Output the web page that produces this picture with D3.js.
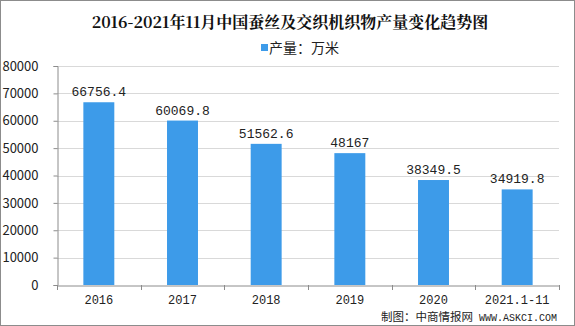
<!DOCTYPE html>
<html><head><meta charset="utf-8">
<script src="https://cdn.jsdelivr.net/npm/d3@7"></script>
<style>body{margin:0;background:#fff}svg{display:block}</style>
</head><body>
<svg id="c" width="575" height="326"></svg>
<script>
const categories = ["2016","2017","2018","2019","2020","2021.1-11"];
const values = [66756.4, 60069.8, 51562.6, 48167, 38349.5, 34919.8];
const valueLabels = ["66756.4","60069.8","51562.6","48167","38349.5","34919.8"];
const yTicks = [0,10000,20000,30000,40000,50000,60000,70000,80000];
const title = "2016-2021年11月中国蚕丝及交织机织物产量变化趋势图";
const legendLabel = "产量：万米";
const sourceCn = "制图：中商情报网";
const sourceEn = " WWW.ASKCI.COM";

const svg = d3.select("#c");
const W = 575, H = 326;
const font = "'SimSun','Noto Sans CJK SC',sans-serif";
const mono = "'Liberation Mono','DejaVu Sans Mono',monospace";
svg.append("rect").attr("x",0.5).attr("y",0.5).attr("width",W-1).attr("height",H-1)
  .attr("fill","#fff").attr("stroke","#8c8c8c");

const X0 = 57, X1 = 559;
const x = d3.scaleBand().domain(categories).range([X0,X1]).paddingInner(0.63).paddingOuter(0.315);
const y = d3.scaleLinear().domain([0,80000]).range([285,66]);

// gridlines
svg.append("g").selectAll("line").data(yTicks.filter(d=>d>0)).join("line")
  .attr("x1",X0).attr("x2",X1).attr("y1",d=>Math.round(y(d))+0.5).attr("y2",d=>Math.round(y(d))+0.5)
  .attr("stroke","#d9d9d9");

// y axis
const ya = svg.append("g").attr("transform",`translate(${X0+0.5},0)`)
  .call(d3.axisLeft(y).tickValues(yTicks).tickSize(4).tickPadding(15).tickFormat(d3.format("d")));
ya.select(".domain").attr("stroke","#8c8c8c");
ya.selectAll(".tick line").attr("stroke","#8c8c8c");
ya.selectAll("text").attr("font-family",font).attr("font-size",13).attr("fill","#222");

// x axis
const xa = svg.append("g").attr("transform","translate(0,285.5)")
  .call(d3.axisBottom(x).tickSize(0).tickPadding(10));
xa.select(".domain").attr("stroke","#8c8c8c");
xa.selectAll("text").attr("font-family",mono).attr("font-size",12).attr("fill","#222");
const bounds = d3.range(categories.length+1).map(i=>X0 + i*x.step());
svg.append("g").selectAll("line").data(bounds).join("line")
  .attr("x1",d=>Math.round(d)+0.5).attr("x2",d=>Math.round(d)+0.5).attr("y1",285).attr("y2",290)
  .attr("stroke","#8c8c8c");

// bars
svg.append("g").selectAll("rect").data(values).join("rect")
  .attr("x",(d,i)=>x(categories[i])).attr("width",x.bandwidth())
  .attr("y",d=>y(d)).attr("height",d=>y(0)-y(d)).attr("fill","#3d9be9");

// value labels
svg.append("g").selectAll("text").data(values).join("text")
  .attr("x",(d,i)=>x(categories[i])+x.bandwidth()/2).attr("y",d=>y(d)-6)
  .attr("text-anchor","middle").attr("font-family",mono).attr("font-size",13).attr("fill","#222")
  .text((d,i)=>valueLabels[i]);

// title
svg.append("text").attr("x",290).attr("y",28).attr("text-anchor","middle")
  .attr("font-family","'Noto Serif CJK SC','Noto Sans CJK SC',serif").attr("font-weight","bold")
  .attr("font-size",16).attr("fill","#111").text(title);

// legend
svg.append("rect").attr("x",261).attr("y",44).attr("width",7).attr("height",7).attr("fill","#3d9be9");
svg.append("text").attr("x",269).attr("y",53).attr("font-family",font).attr("font-size",14)
  .attr("fill","#222").text(legendLabel);

// source
const st = svg.append("text").attr("x",557).attr("y",321).attr("text-anchor","end")
  .attr("font-family",font).attr("font-size",11.5).attr("fill","#222");
st.append("tspan").text(sourceCn);
st.append("tspan").attr("font-family",mono).attr("font-size",10).text(sourceEn);
</script>
</body></html>
